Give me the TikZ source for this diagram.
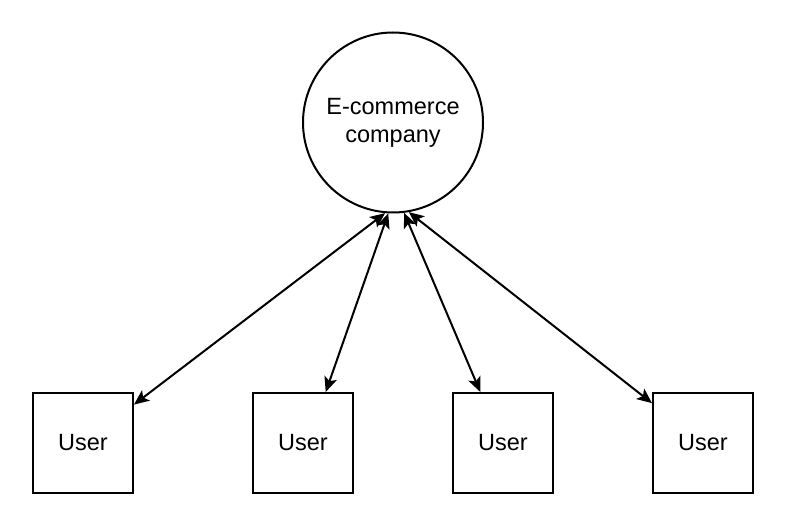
\documentclass[tikz,border=0pt]{standalone}
\usepackage{fontspec}
\setmainfont{Liberation Sans}
\usetikzlibrary{arrows.meta}
\begin{document}
\begin{tikzpicture}[x=1pt,y=-1pt,
  line width=2pt,
  userbox/.style={draw,rectangle,minimum width=100pt,minimum height=100pt,inner sep=0pt,font=\fontsize{23.5}{28}\selectfont},
  hub/.style={draw,circle,minimum size=180pt,inner sep=0pt,align=center,font=\fontsize{23.5}{28}\selectfont},
  link/.style={{Stealth[length=15pt,width=13pt,inset=3.5pt]}-{Stealth[length=15pt,width=13pt,inset=3.5pt]}}]
\useasboundingbox[fill=white] (0,0) rectangle (786,510);
\node[hub] (c) at (393,122.5) {E-commerce\\company};
\node[userbox] (u1) at (83,443) {User};
\node[userbox] (u2) at (303,443) {User};
\node[userbox] (u3) at (503,443) {User};
\node[userbox] (u4) at (703,443) {User};
\draw[link] (c.-95.6) -- (u1.37);
\draw[link] (c.-93.1) -- (u2.66.3);
\draw[link] (c.-83.1) -- (u3.114.7);
\draw[link] (c.-80.1) -- (u4.142.8);
\end{tikzpicture}
\end{document}
